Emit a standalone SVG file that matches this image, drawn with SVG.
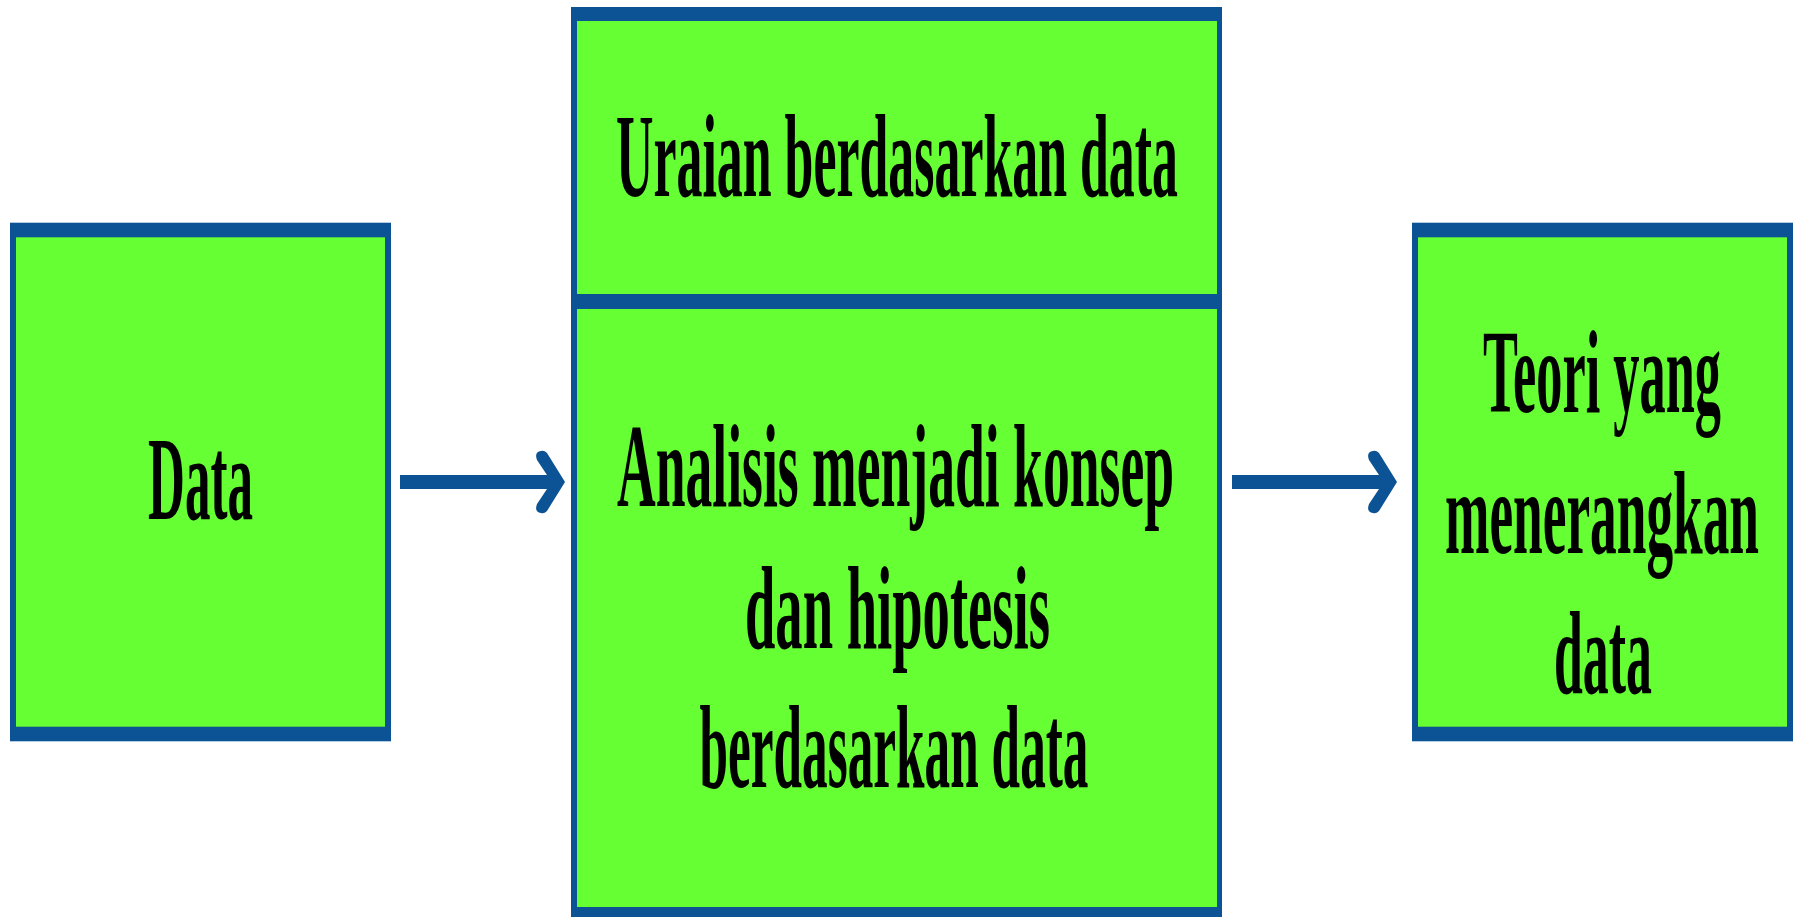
<svg xmlns="http://www.w3.org/2000/svg" width="1798" height="917" viewBox="0 0 1798 917">
<defs>
<style>
.frame{fill:#0b5394}
.fill{fill:#66ff33}
.t{font-family:"Liberation Serif","DejaVu Serif",serif;font-weight:bold;font-size:118px;fill:#000;text-anchor:middle}
.arrow{fill:#0b5394}
</style>
<path id="arr" d="M400,475 L547,475 L537,460 Q534,452 541,451 Q544,450 547,453 L565,482 L547,511 Q544,514 541,513 Q534,512 537,504 L547,489 L400,489 Z"/>
</defs>
<rect width="1798" height="917" fill="#fff"/>
<g id="node-data">
<rect class="frame" x="10" y="222.7" width="381" height="518.6"/>
<rect class="fill" x="16" y="237.3" width="369" height="489.4"/>
<text class="t" x="200.5" y="519" textLength="105" lengthAdjust="spacingAndGlyphs">Data</text>
</g>
<g id="node-uraian">
<rect class="frame" x="571" y="7" width="651" height="302"/>
<rect class="fill" x="577" y="21" width="640" height="273"/>
<text class="t" x="897" y="196" textLength="562" lengthAdjust="spacingAndGlyphs">Uraian berdasarkan data</text>
</g>
<g id="node-analisis">
<rect class="frame" x="571" y="294" width="651" height="623"/>
<rect class="fill" x="577" y="309" width="640" height="598"/>
<text class="t" x="895.5" y="506" textLength="557" lengthAdjust="spacingAndGlyphs">Analisis menjadi konsep</text>
<text class="t" x="897.5" y="648" textLength="305" lengthAdjust="spacingAndGlyphs">dan hipotesis</text>
<text class="t" x="894" y="787" textLength="389" lengthAdjust="spacingAndGlyphs">berdasarkan data</text>
</g>
<g id="node-teori">
<rect class="frame" x="1412" y="222.7" width="381" height="518.6"/>
<rect class="fill" x="1418" y="237.3" width="369" height="489.4"/>
<text class="t" x="1602" y="412" textLength="238" lengthAdjust="spacingAndGlyphs">Teori yang</text>
<text class="t" x="1602" y="553" textLength="314" lengthAdjust="spacingAndGlyphs">menerangkan</text>
<text class="t" x="1603" y="693" textLength="98" lengthAdjust="spacingAndGlyphs">data</text>
</g>
<g id="connectors">
<use href="#arr" class="arrow"/>
<use href="#arr" class="arrow" transform="translate(832,0)"/>
</g>
</svg>
